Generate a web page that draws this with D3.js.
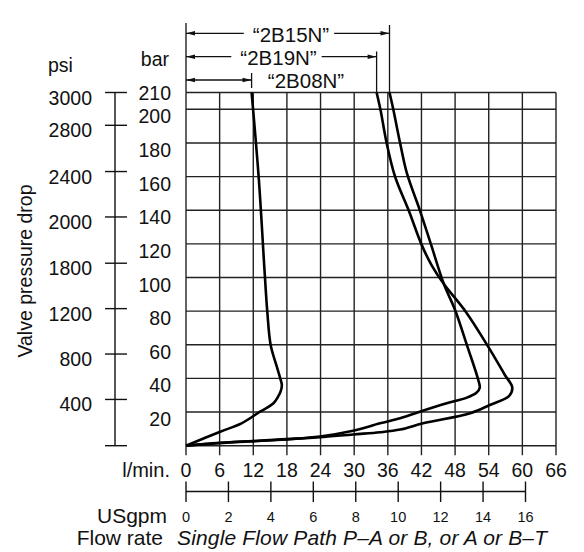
<!DOCTYPE html>
<html><head><meta charset="utf-8">
<script src="https://cdn.jsdelivr.net/npm/d3@7"></script>
<style>
html,body{margin:0;padding:0;background:#fff;}
text{font-family:"Liberation Sans",Arial,Helvetica,sans-serif;fill:#111;}
</style></head>
<body><svg id="c" width="584" height="552"></svg>
<script>
// ---------- data ----------
const flowTicks = [0, 6, 12, 18, 24, 30, 36, 42, 48, 54, 60, 66];        // l/min
const barTicks = [20, 40, 60, 80, 100, 120, 140, 160, 180, 200, 210];    // bar
const psiTicks = [0, 400, 800, 1200, 1800, 2000, 2400, 2800, 3000];      // psi labels as printed
const psiTickBar = [0, 27.5, 54.5, 81.5, 108.5, 136, 163, 190.5, 210];  // where they sit on the bar scale
const gpmTicks = [0, 2, 4, 6, 8, 10, 12, 14, 16];
const LPM_PER_GPM = 3.785;

const seriesNames = ["2B08N", "2B19N", "2B15N"];
// [flow l/min, pressure bar]
const s2B08N = [[11.7,210],[13.0,158],[14.0,104.5],[14.5,79.7],[15.1,59.9],[16.2,47],[16.8,40.2],
  [17.1,36.1],[16.9,32.5],[16.4,29.0],[15.6,25.2],[13.2,20.2],[9.9,13.3],[6.1,8.3],[0,0]];
const s2B19N = [[34.0,210],[34.7,199.6],[35.8,179.8],[37.3,159.9],[39.7,140.1],[42.0,119.7],[43.8,107.4],
  [46.0,96.1],[49.9,79.7],[53.9,58.9],[56.8,42.5],[58.2,34.5],[57.6,29.5],[54.2,24.2],[50.7,19.3],
  [42.3,13.3],[38.2,9.6],[34.6,8.0],[29.8,6.7],[23.9,5.0],[18.0,3.7],[6.1,1.6],[0,0]];
const s2B15N = [[36.3,210],[37.0,199.6],[38.2,179.8],[39.4,162],[41.7,140.1],[43.7,119.7],[46.0,96.1],
  [48.0,80.7],[50.2,58.9],[52.1,39.5],[52.4,34.5],[51.8,31.5],[50.1,28.6],[46.5,25.2],[41.7,20.2],
  [38.2,16.3],[34.6,13.3],[29.8,8.9],[23.9,5.5],[18.0,3.9],[6.1,1.7],[0,0]];
const seriesData = [s2B08N, s2B19N, s2B15N];

// ---------- layout ----------
const svg = d3.select("#c");
const FS = 19.5;
const FS2 = 21;
const x = d3.scaleLinear().domain([0, 66]).range([186, 556]);
const y = d3.scaleLinear().domain([0, 210]).range([445.7, 92.5]);
const gpm = d3.scaleLinear().domain([0, 66 / LPM_PER_GPM]).range([186, 556]);
const psiToBar = d3.scaleLinear().domain(psiTicks).range(psiTickBar);

const gridColor = "#222";
const g = svg.append("g");

// horizontal grid lines
g.selectAll("line.h").data([0].concat(barTicks)).join("line")
  .attr("x1", x(0)).attr("x2", x(66))
  .attr("y1", d => y(d)).attr("y2", d => y(d))
  .attr("stroke", gridColor).attr("stroke-width", 1.4);
// vertical grid lines (extend below as ticks)
g.selectAll("line.v").data(flowTicks).join("line")
  .attr("x1", d => x(d)).attr("x2", d => x(d))
  .attr("y1", y(210)).attr("y2", y(0) + 9.5)
  .attr("stroke", gridColor).attr("stroke-width", 1.4);
// left vertical extension to the annotation area
g.append("line").attr("x1", x(0)).attr("x2", x(0)).attr("y1", 23).attr("y2", y(210))
  .attr("stroke", gridColor).attr("stroke-width", 1.4);

// bar labels
g.selectAll("text.bar").data(barTicks).join("text")
  .attr("x", 171).attr("y", d => y(d) + (d === 210 ? 7.5 : 14))
  .attr("text-anchor", "end").attr("font-size", FS).text(d => d);
g.append("text").attr("x", 169).attr("y", 66).attr("text-anchor", "end").attr("font-size", FS).text("bar");

// psi axis
const psiX = 115;
g.append("line").attr("x1", psiX).attr("x2", psiX)
  .attr("y1", y(psiToBar(3000))).attr("y2", y(psiToBar(0)))
  .attr("stroke", "#111").attr("stroke-width", 1.4);
g.selectAll("line.psi").data(psiTicks).join("line")
  .attr("x1", psiX - 10).attr("x2", psiX + 12)
  .attr("y1", d => y(psiToBar(d))).attr("y2", d => y(psiToBar(d)))
  .attr("stroke", "#111").attr("stroke-width", 1.4);
g.selectAll("text.psi").data(psiTicks.filter(d => d > 0)).join("text")
  .attr("x", 92).attr("y", d => y(psiToBar(d)) + 12)
  .attr("text-anchor", "end").attr("font-size", FS).text(d => d);
g.append("text").attr("x", 48).attr("y", 71.5).attr("font-size", FS).text("psi");

// y title
g.append("text").attr("transform", "translate(31.5,271) rotate(-90)")
  .attr("text-anchor", "middle").attr("font-size", FS).text("Valve pressure drop");

// l/min labels
g.selectAll("text.lpm").data(flowTicks).join("text")
  .attr("x", d => x(d)).attr("y", 477)
  .attr("text-anchor", "middle").attr("font-size", FS).text(d => d);
g.append("text").attr("x", 170).attr("y", 477).attr("text-anchor", "end").attr("font-size", 20).text("l/min.");

// USgpm axis
const gpmY = 491.5;
g.append("line").attr("x1", gpm(0)).attr("x2", gpm(16)).attr("y1", gpmY).attr("y2", gpmY)
  .attr("stroke", "#111").attr("stroke-width", 1.4);
g.selectAll("line.gpm").data(gpmTicks).join("line")
  .attr("x1", d => gpm(d)).attr("x2", d => gpm(d)).attr("y1", gpmY - 10).attr("y2", gpmY + 10.5)
  .attr("stroke", "#111").attr("stroke-width", 1.4);
g.selectAll("text.gpm").data(gpmTicks).join("text")
  .attr("x", d => gpm(d)).attr("y", 521.5)
  .attr("text-anchor", "middle").attr("font-size", 14.5).text(d => d);
g.append("text").attr("x", 167).attr("y", 522.5).attr("text-anchor", "end").attr("font-size", FS2).text("USgpm");
g.append("text").attr("x", 163).attr("y", 545).attr("text-anchor", "end").attr("font-size", FS2).text("Flow rate");
g.append("text").attr("x", 177).attr("y", 545).attr("font-size", FS2).attr("font-style", "italic")
  .attr("textLength", 370).attr("lengthAdjust", "spacing")
  .text("Single Flow Path P–A or B, or A or B–T");

// curves
const line = d3.line().x(d => x(d[0])).y(d => y(d[1])).curve(d3.curveCatmullRom.alpha(0.5));
g.selectAll("path.curve").data(seriesData).join("path")
  .attr("d", line).attr("fill", "none").attr("stroke", "#000").attr("stroke-width", 2.6)
  .attr("stroke-linejoin", "round");

// annotations (dimension arrows from 0 to the flow at 210 bar)
const annY = {"2B15N": 33.3, "2B19N": 56.7, "2B08N": 80};
const annTextX = {"2B15N": 291, "2B19N": 278.5, "2B08N": 306};
const annVTop = {"2B15N": 25, "2B19N": 51.5, "2B08N": 73};
const annVBot = {"2B15N": y(210), "2B19N": y(210), "2B08N": 88};
seriesNames.forEach((name, i) => {
  const xe = x(seriesData[i][0][0]);
  const ly = annY[name];
  const t = g.append("text").attr("x", annTextX[name]).attr("y", ly + 8.4)
    .attr("text-anchor", "middle").attr("font-size", 20.5).text("“" + name + "”");
  const w = t.node().getComputedTextLength();
  const tx0 = annTextX[name] - w / 2, tx1 = annTextX[name] + w / 2;
  const segs = [];
  if (tx0 < xe) {
    segs.push([x(0), tx0 - 9]);
    if (tx1 + 5 < xe) segs.push([tx1 + 5, xe]);
  } else segs.push([x(0), xe]);
  segs.forEach(s => g.append("line").attr("x1", s[0]).attr("x2", s[1]).attr("y1", ly).attr("y2", ly)
    .attr("stroke", "#111").attr("stroke-width", 1.3));
  g.append("path").attr("d", `M${x(0)},${ly}L${x(0) + 9},${ly - 2.2}L${x(0) + 9},${ly + 2.2}Z`).attr("fill", "#111");
  g.append("path").attr("d", `M${xe},${ly}L${xe - 9},${ly - 2.2}L${xe - 9},${ly + 2.2}Z`).attr("fill", "#111");
  g.append("line").attr("x1", xe).attr("x2", xe).attr("y1", annVTop[name]).attr("y2", annVBot[name])
    .attr("stroke", "#111").attr("stroke-width", 1.3);
});
</script></body></html>
